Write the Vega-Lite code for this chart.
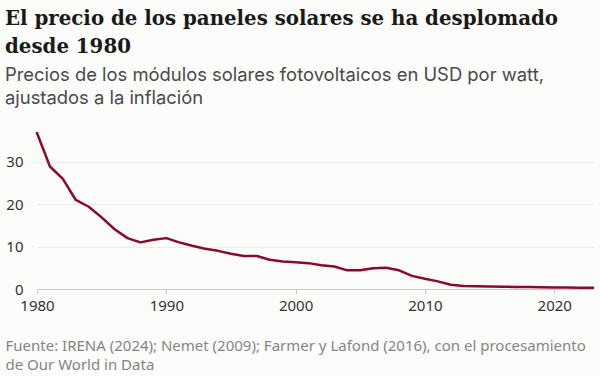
{
  "$schema": "https://vega.github.io/schema/vega-lite/v6.json",
  "width": 556,
  "height": 156,
  "padding": {"left": 5, "top": 8, "right": 7, "bottom": 4},
  "background": "#fcfcfb",
  "title": {
    "text": ["El precio de los paneles solares se ha desplomado", "desde 1980"],
    "subtitle": ["Precios de los módulos solares fotovoltaicos en USD por watt,", "ajustados a la inflación"],
    "anchor": "start",
    "frame": "bounds",
    "font": "DejaVu Serif",
    "fontSize": 19.8,
    "fontWeight": "bold",
    "lineHeight": 28,
    "color": "#1a1a1a",
    "subtitleFont": "Inter",
    "subtitleFontSize": 18.4,
    "subtitleLineHeight": 23,
    "subtitleColor": "#4a4a4a",
    "subtitlePadding": 10,
    "offset": 24
  },
  "data": {
    "values": [
      {"year": 1980, "price": 36.8},
      {"year": 1981, "price": 28.9},
      {"year": 1982, "price": 26.0},
      {"year": 1983, "price": 21.0},
      {"year": 1984, "price": 19.4},
      {"year": 1985, "price": 16.9},
      {"year": 1986, "price": 14.1},
      {"year": 1987, "price": 12.0},
      {"year": 1988, "price": 11.0},
      {"year": 1989, "price": 11.6},
      {"year": 1990, "price": 12.0},
      {"year": 1991, "price": 11.0},
      {"year": 1992, "price": 10.2},
      {"year": 1993, "price": 9.5},
      {"year": 1994, "price": 9.0},
      {"year": 1995, "price": 8.3},
      {"year": 1996, "price": 7.8},
      {"year": 1997, "price": 7.8},
      {"year": 1998, "price": 6.9},
      {"year": 1999, "price": 6.5},
      {"year": 2000, "price": 6.3},
      {"year": 2001, "price": 6.1},
      {"year": 2002, "price": 5.6},
      {"year": 2003, "price": 5.3},
      {"year": 2004, "price": 4.4},
      {"year": 2005, "price": 4.4},
      {"year": 2006, "price": 4.9},
      {"year": 2007, "price": 5.0},
      {"year": 2008, "price": 4.4},
      {"year": 2009, "price": 3.1},
      {"year": 2010, "price": 2.4},
      {"year": 2011, "price": 1.8},
      {"year": 2012, "price": 1.0},
      {"year": 2013, "price": 0.7},
      {"year": 2014, "price": 0.63},
      {"year": 2015, "price": 0.6},
      {"year": 2016, "price": 0.55},
      {"year": 2017, "price": 0.5},
      {"year": 2018, "price": 0.45},
      {"year": 2019, "price": 0.4},
      {"year": 2020, "price": 0.36},
      {"year": 2021, "price": 0.33},
      {"year": 2022, "price": 0.32},
      {"year": 2023, "price": 0.31}
    ]
  },
  "mark": {"type": "line", "color": "#8b0a2b", "strokeWidth": 2.5, "strokeJoin": "round", "strokeCap": "round"},
  "encoding": {
    "x": {
      "field": "year",
      "type": "quantitative",
      "scale": {"domain": [1980, 2023], "nice": false, "zero": false},
      "axis": {
        "values": [1980, 1990, 2000, 2010, 2020],
        "format": "d",
        "grid": false,
        "domainColor": "#c8c8c8",
        "tickColor": "#c8c8c8",
        "tickSize": 5,
        "labelFont": "Noto Sans",
        "labelFontSize": 15,
        "labelColor": "#333333",
        "labelPadding": 4,
        "labelFlush": false,
        "title": ["Fuente: IRENA (2024); Nemet (2009); Farmer y Lafond (2016), con el procesamiento", "de Our World in Data"],
        "titleFont": "Noto Sans",
        "titleFontSize": 15,
        "titleFontWeight": "normal",
        "titleColor": "#858585",
        "titleAnchor": "start",
        "titleAlign": "left",
        "titleX": -32,
        "titleLineHeight": 19,
        "titlePadding": 25
      }
    },
    "y": {
      "field": "price",
      "type": "quantitative",
      "scale": {"domain": [0, 36.8], "nice": false},
      "axis": {
        "values": [0, 10, 20, 30],
        "domain": false,
        "ticks": false,
        "gridColor": "#ececec",
        "labelFont": "Noto Sans",
        "labelFontSize": 15,
        "labelColor": "#333333",
        "labelPadding": 14,
        "title": null
      }
    }
  },
  "config": {"view": {"stroke": null}}
}
